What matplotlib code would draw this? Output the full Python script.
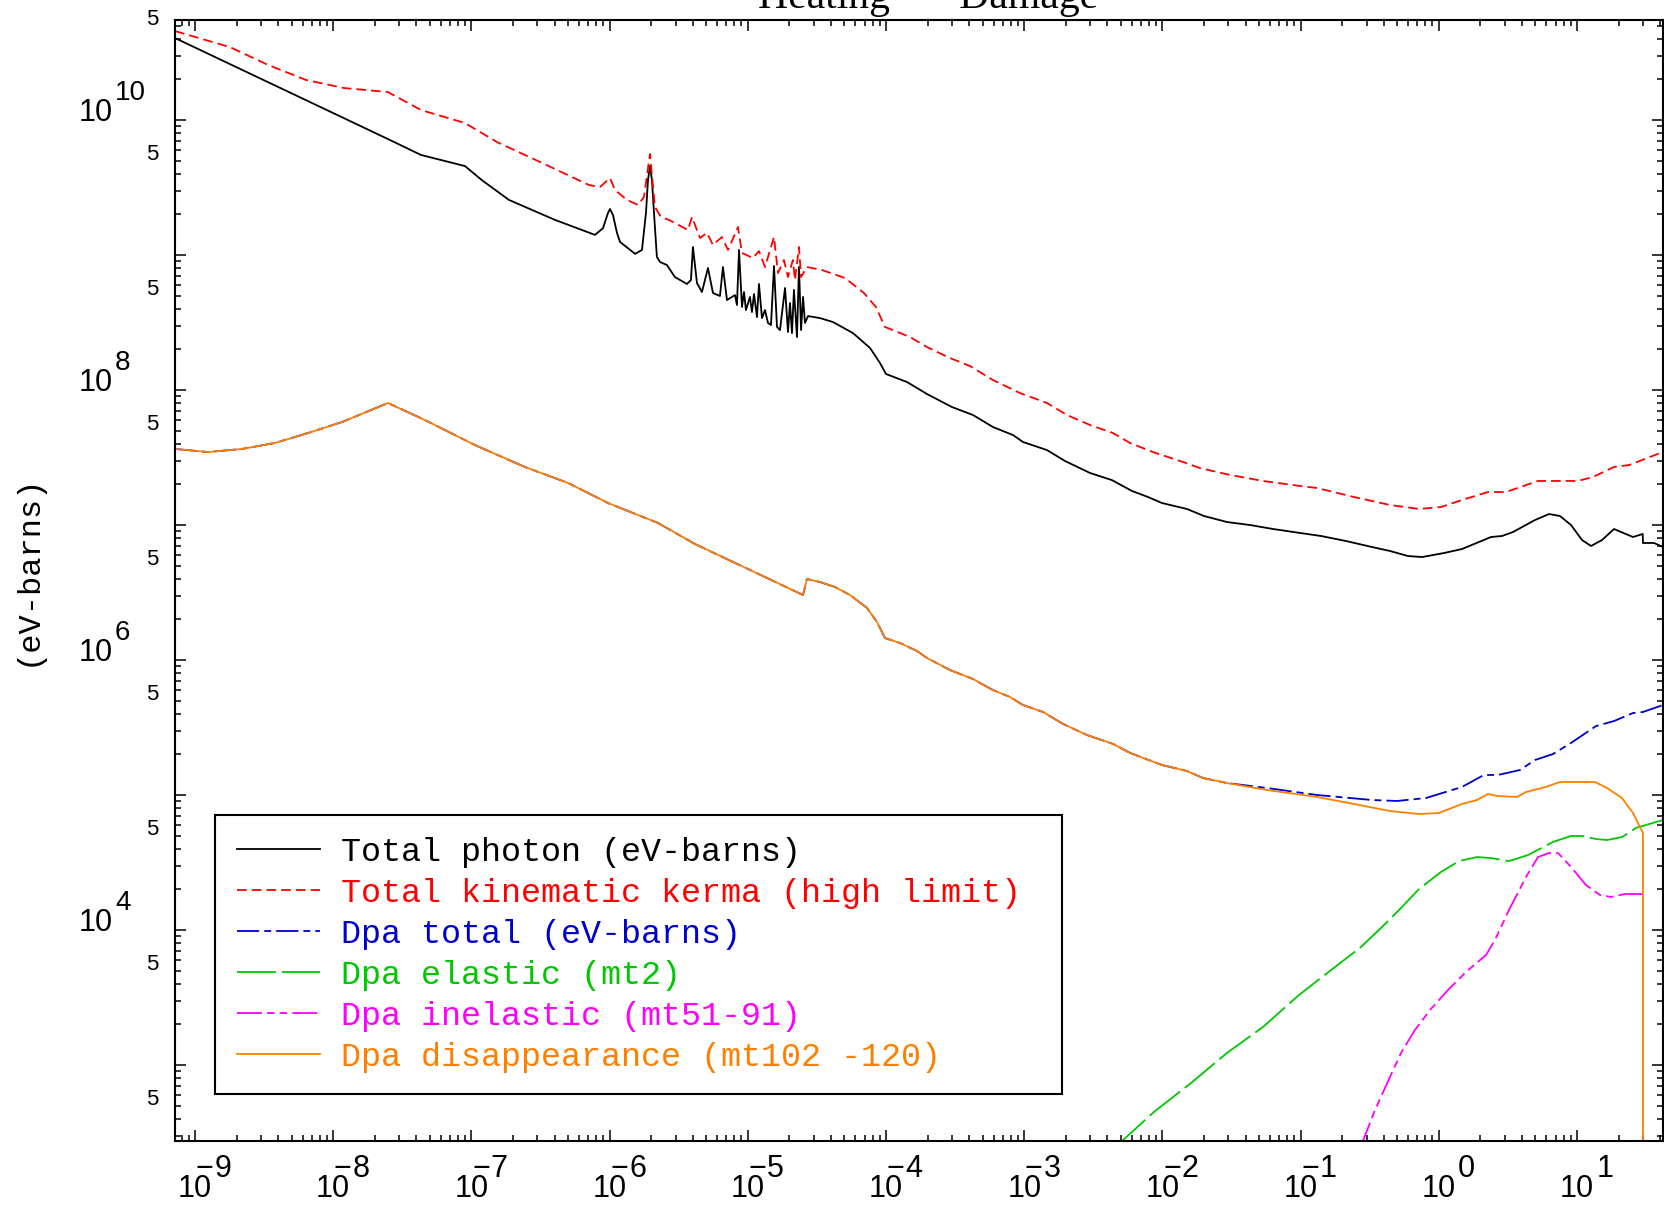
import numpy as np
import matplotlib
matplotlib.use("Agg")
import matplotlib.pyplot as plt
from matplotlib.ticker import LogLocator, NullFormatter

# values (energy, eV-barns)
photon_e = [7.17e-10, 2.49e-8, 4.32e-8, 8.99e-8, 1.19e-7, 1.87e-7, 4.03e-7, 7.84e-7,
            8.96e-7, 9.74e-7, 1.007e-6, 1.058e-6, 1.131e-6, 1.19e-6, 1.53e-6, 1.716e-6,
            1.834e-6, 1.896e-6, 1.96e-6, 2.026e-6, 2.096e-6, 2.20e-6, 2.32e-6, 2.60e-6,
            2.97e-6, 3.63e-6, 3.88e-6, 4.01e-6, 4.29e-6, 4.66e-6, 5.15e-6, 5.60e-6,
            6.29e-6, 6.61e-6, 7.07e-6, 8.08e-6, 8.35e-6, 8.64e-6, 9.08e-6, 9.39e-6,
            9.70e-6, 1.037e-5, 1.072e-5, 1.109e-5, 1.166e-5, 1.205e-5, 1.267e-5, 1.332e-5,
            1.40e-5, 1.472e-5, 1.548e-5, 1.627e-5, 1.71e-5, 1.86e-5, 1.954e-5, 2.02e-5,
            2.088e-5, 2.158e-5, 2.27e-5, 2.347e-5, 2.43e-5, 2.51e-5, 2.594e-5, 2.73e-5,
            3.33e-5, 4.13e-5, 5.77e-5, 7.66e-5, 9.05e-5, 1.0e-4, 1.419e-4, 1.98e-4,
            3.0e-4, 4.26e-4, 5.94e-4, 8.30e-4, 9.80e-4, 1.462e-3, 1.974e-3, 2.99e-3,
            4.32e-3, 6.03e-3, 7.87e-3, 9.93e-3, 1.507e-2, 2.0e-2, 2.93e-2, 4.30e-2,
            6.32e-2, 9.90e-2, 0.1405, 0.213, 0.3286, 0.4434, 0.5986, 0.7558,
            1.09, 1.472, 2.386, 2.866, 3.44, 4.97, 6.27, 7.53,
            9.05, 10.87, 12.63, 15.17, 18.52, 25.42, 29.9, 30.0, 36.1, 41.9]
photon_v = [4.05e10, 7.23e9, 5.51e9, 4.56e9, 3.59e9, 2.56e9, 1.82e9, 1.41e9,
            1.58e9, 2.05e9, 2.19e9, 1.98e9, 1.46e9, 1.25e9, 1.02e9, 1.09e9,
            2.05e9, 3.59e9, 4.56e9, 3.59e9, 2.05e9, 9.67e8, 8.87e8, 8.43e8,
            6.87e8, 6.10e8, 6.53e8, 1.147e9, 6.20e8, 5.32e8, 8.01e8, 5.23e8,
            4.97e8, 8.15e8, 4.64e8, 5.05e8, 4.26e8, 1.09e9, 4.12e8, 5.32e8,
            3.91e8, 4.89e8, 3.78e8, 5.14e8, 3.47e8, 6.10e8, 3.41e8, 3.91e8,
            3.14e8, 3.03e8, 8.29e8, 2.93e8, 2.78e8, 5.70e8, 2.69e8, 4.41e8,
            2.64e8, 5.51e8, 2.47e8, 8.15e8, 2.78e8, 4.89e8, 3.14e8, 3.53e8,
            3.41e8, 3.19e8, 2.64e8, 2.05e8, 1.585e8, 1.314e8, 1.146e8, 9.34e7,
            7.48e7, 6.53e7, 5.32e7, 4.64e7, 4.12e7, 3.59e7, 2.98e7, 2.43e7,
            2.15e7, 1.786e7, 1.612e7, 1.455e7, 1.314e7, 1.166e7, 1.052e7, 1.0e7,
            9.34e6, 8.73e6, 8.29e6, 7.61e6, 6.87e6, 6.42e6, 5.89e6, 5.79e6,
            6.20e6, 6.64e6, 8.15e6, 8.29e6, 8.87e6, 1.089e7, 1.206e7, 1.166e7,
            1.0e7, 7.74e6, 6.99e6, 7.74e6, 9.34e6, 8.15e6, 8.58e6, 7.36e6, 7.36e6, 6.87e6]

kerma_e = [7.17e-10, 1.79e-9, 3.38e-9, 6.36e-9, 1.197e-8, 2.49e-8, 4.32e-8, 8.99e-8,
           1.532e-7, 2.93e-7, 7.10e-7, 8.52e-7, 1.007e-6, 1.094e-6, 1.336e-6, 1.605e-6,
           1.774e-6, 1.96e-6, 2.13e-6, 2.354e-6, 2.69e-6, 3.69e-6, 3.95e-6, 4.51e-6,
           5.07e-6, 5.60e-6, 5.79e-6, 6.51e-6, 7.19e-6, 8.49e-6, 9.08e-6, 1.09e-5,
           1.205e-5, 1.332e-5, 1.548e-5, 1.654e-5, 1.827e-5, 1.954e-5, 2.12e-5, 2.195e-5,
           2.347e-5, 2.43e-5, 2.68e-5, 3.44e-5, 5.05e-5, 6.93e-5, 8.46e-5, 9.83e-5,
           1.492e-4, 1.98e-4, 2.90e-4, 4.05e-4, 5.94e-4, 9.32e-4, 1.462e-3, 2.04e-3,
           2.99e-3, 4.39e-3, 5.83e-3, 8.55e-3, 1.41e-2, 1.871e-2, 3.08e-2, 5.34e-2,
           9.90e-2, 0.1315, 0.2434, 0.4434, 0.719, 1.037, 1.472, 2.27,
           3.06, 5.22, 10.17, 13.05, 18.52, 23.78, 39.9]
kerma_v = [4.56e10, 3.47e10, 2.56e10, 1.98e10, 1.726e10, 1.612e10, 1.186e10, 9.50e9,
           6.87e9, 5.05e9, 3.30e9, 3.19e9, 3.72e9, 3.03e9, 2.56e9, 2.35e9,
           2.69e9, 5.60e9, 2.27e9, 1.912e9, 1.82e9, 1.532e9, 1.912e9, 1.336e9,
           1.46e9, 1.186e9, 1.227e9, 1.359e9, 1.09e9, 1.612e9, 1.035e9, 9.50e8,
           1.07e9, 8.15e8, 1.359e9, 7.36e8, 9.18e8, 6.87e8, 9.18e8, 6.53e8,
           1.147e9, 6.87e8, 8.15e8, 7.74e8, 6.75e8, 5.23e8, 4.12e8, 2.93e8,
           2.47e8, 2.08e8, 1.726e8, 1.506e8, 1.186e8, 9.50e7, 8.01e7, 6.53e7,
           5.51e7, 4.80e7, 4.05e7, 3.47e7, 2.93e7, 2.64e7, 2.35e7, 2.12e7,
           1.945e7, 1.88e7, 1.612e7, 1.407e7, 1.314e7, 1.359e7, 1.532e7, 1.755e7,
           1.755e7, 2.12e7, 2.12e7, 2.27e7, 2.69e7, 2.78e7, 3.41e7]

# Dpa total and Dpa disappearance share this part
common_e = [7.17e-10, 1.242e-9, 2.19e-9, 3.79e-9, 6.57e-9, 1.158e-8, 2.49e-8, 4.62e-8,
            1.062e-7, 2.44e-7, 5.0e-7, 9.74e-7, 2.24e-6, 4.15e-6, 2.51e-5, 2.68e-5,
            3.33e-5, 4.28e-5, 5.49e-5, 7.29e-5, 8.61e-5, 9.83e-5, 1.263e-4, 1.676e-4,
            1.98e-4, 2.90e-4, 4.26e-4, 5.94e-4, 7.90e-4, 9.80e-4, 1.368e-3, 1.909e-3,
            2.85e-3, 4.39e-3, 5.83e-3, 9.93e-3, 1.507e-2, 1.966e-2, 2.93e-2]
common_v = [3.66e7, 3.47e7, 3.66e7, 4.05e7, 4.80e7, 5.79e7, 8.01e7, 5.99e7,
            3.91e7, 2.69e7, 2.05e7, 1.455e7, 1.035e7, 7.23e6, 3.03e6, 3.98e6,
            3.78e6, 3.47e6, 3.03e6, 2.43e6, 1.912e6, 1.455e6, 1.336e6, 1.166e6,
            1.035e6, 8.43e5, 7.23e5, 5.99e5, 5.32e5, 4.64e5, 4.12e5, 3.36e5,
            2.78e5, 2.39e5, 2.05e5, 1.668e5, 1.506e5, 1.336e5, 1.227e5]

dpa_tot_e = common_e + [5.71e-2, 0.1315, 0.3286, 0.498, 0.808, 1.472, 2.12, 2.68,
                        3.87, 4.97, 6.70, 9.05, 13.72, 18.52, 25.42, 30.0, 41.9]
dpa_tot_v = common_v + [1.127e5, 1.0e5, 9.18e4, 9.03e4, 9.50e4, 1.147e5, 1.407e5, 1.407e5,
                        1.532e5, 1.817e5, 2.01e5, 2.43e5, 3.24e5, 3.53e5, 4.05e5, 4.12e5, 4.64e5]

dpa_dis_e = common_e + [5.71e-2, 0.1315, 0.2434, 0.4434, 0.719, 1.003, 1.472, 1.89,
                        2.27, 2.64, 3.68, 4.28, 5.97, 7.53, 13.50, 16.49, 21.17, 25.42,
                        30.0, 30.0]
dpa_dis_v = common_v + [1.089e5, 9.67e4, 8.58e4, 7.61e4, 7.23e4, 7.36e4, 8.58e4, 9.18e4,
                        1.017e5, 9.83e4, 9.67e4, 1.052e5, 1.147e5, 1.248e5, 1.248e5, 1.127e5,
                        9.50e4, 7.36e4, 5.23e4, 1.0e2]

dpa_el_e = [4.66e-3, 8.69e-3, 1.61e-2, 2.93e-2, 5.34e-2, 9.74e-2, 0.1774, 0.2735,
            0.3948, 0.5327, 0.719, 1.037, 1.40, 1.89, 2.386, 3.22, 4.42, 6.70,
            9.05, 10.87, 13.72, 16.49, 21.17, 26.7, 41.9]
dpa_el_v = [251, 449, 735, 1227, 1912, 3300, 5318, 7483,
            1.07e4, 1.455e4, 2.01e4, 2.69e4, 3.24e4, 3.47e4, 3.41e4, 3.24e4, 3.59e4, 4.49e4,
            4.97e4, 4.97e4, 4.72e4, 4.64e4, 4.88e4, 5.70e4, 6.53e4]

dpa_inel_e = [0.2735, 0.3455, 0.4434, 0.5327, 0.6727, 0.8635, 1.166, 1.573,
              2.195, 2.55, 3.22, 4.28, 5.22, 6.27, 7.29, 9.05, 11.62, 14.67,
              17.62, 22.25, 30.0]
dpa_inel_v = [251, 464, 815, 1227, 1817, 2555, 3594, 4886,
              6528, 8432, 1.407e4, 2.47e4, 3.47e4, 3.72e4, 3.72e4, 2.93e4, 2.15e4, 1.817e4,
              1.756e4, 1.848e4, 1.848e4]

labels = ["Total photon (eV-barns)", "Total kinematic kerma (high limit)",
          "Dpa total (eV-barns)", "Dpa elastic (mt2)", "Dpa inelastic (mt51-91)",
          "Dpa disappearance (mt102 -120)"]

plt.rcParams['lines.scale_dashes'] = False
mono = 'Liberation Mono'
sans = 'Liberation Sans'

fig = plt.figure(figsize=(16.65, 12.06), dpi=100)
ax = fig.add_axes([0.1051, 0.0539, 0.8937, 0.9295])

lw = 1.3
ax.plot(photon_e, photon_v, color='black', lw=lw, label=labels[0])
ax.plot(kerma_e, kerma_v, color='#ff0000', lw=lw, dashes=(7, 3.6), label=labels[1])
ax.plot(dpa_tot_e, dpa_tot_v, color='#0000cc', lw=lw, dashes=(16, 3.6, 5, 3.6), label=labels[2])
ax.plot(dpa_el_e, dpa_el_v, color='#00c800', lw=lw, dashes=(28, 4.3), label=labels[3])
ax.plot(dpa_inel_e, dpa_inel_v, color='#ff00ff', lw=lw, dashes=(18, 3.6, 5.5, 3.6, 5.5, 3.6), label=labels[4])
ax.plot(dpa_dis_e, dpa_dis_v, color='#ff8000', lw=lw, label=labels[5])

ax.set_xscale('log')
ax.set_yscale('log')
ax.set_xlim(7.17e-10, 41.9)
ax.set_ylim(273.5, 5.505e10)

for axis in (ax.xaxis, ax.yaxis):
    axis.set_major_locator(LogLocator(base=10, subs=(1.0,), numticks=100))
    axis.set_minor_locator(LogLocator(base=10, subs=np.arange(2, 10), numticks=100))
    axis.set_major_formatter(NullFormatter())
    axis.set_minor_formatter(NullFormatter())
ax.tick_params(which='both', direction='in', top=True, right=True, width=1.1)
ax.tick_params(which='major', length=8)
ax.tick_params(which='minor', length=4.3)
for s in ax.spines.values():
    s.set_linewidth(1.5)

# x tick labels: 10 with exponent, IDL style
xt = ax.get_xaxis_transform()
for n in range(-9, 2):
    ax.annotate("10", xy=(10.0 ** n, 0), xycoords=xt, xytext=(0, -40.3),
                textcoords='offset points', ha='center', va='baseline',
                fontsize=22, family=sans, annotation_clip=False)
    ax.annotate(str(abs(n)), xy=(10.0 ** n, 0), xycoords=xt, xytext=(14, -26),
                textcoords='offset points', ha='left', va='baseline',
                fontsize=22, family=sans, annotation_clip=False)
    if n < 0:
        ax.annotate("\u2212", xy=(10.0 ** n, 0), xycoords=xt, xytext=(7, -26),
                    textcoords='offset points', ha='center', va='baseline',
                    fontsize=22, family=sans, annotation_clip=False)

# y tick labels: 10^n on even decades, "5" at 5x10^n
yt = ax.get_yaxis_transform()
for n in range(2, 11):
    if n % 2 == 0 and n >= 4:
        ax.annotate("10", xy=(0, 10.0 ** n), xycoords=yt, xytext=(-44.6, -0.7),
                    textcoords='offset points', ha='right', va='baseline',
                    fontsize=22, family=sans, annotation_clip=False)
        ax.annotate(str(n), xy=(0, 10.0 ** n), xycoords=yt, xytext=(-43.2, 14.4),
                    textcoords='offset points', ha='left', va='baseline',
                    fontsize=20, family=sans, annotation_clip=False)
    ax.annotate("5", xy=(0, 5 * 10.0 ** n), xycoords=yt, xytext=(-12.2, 4.3),
                textcoords='offset points', ha='right', va='center',
                fontsize=16, family=sans, annotation_clip=False)

fig.text(0.0168, 0.5274, "(eV-barns)", rotation=90, ha='center', va='center',
         fontsize=23, family=mono)
fig.text(0.5575, 1 - 8 / 1206, "Heating  --  Damage", ha='center', va='baseline',
         fontsize=30, family='Liberation Serif')

leg = ax.legend(loc='upper left', bbox_to_anchor=(0.0269, 0.0366, 0.5692, 0.2542),
                mode='expand', borderaxespad=0, fancybox=False, framealpha=1,
                edgecolor='black', labelcolor='linecolor', handlelength=2.5,
                handletextpad=0.63, borderpad=0.65, labelspacing=0.3,
                prop={'family': mono, 'size': 24})
leg.get_frame().set_linewidth(1.5)

fig.savefig("out.png", dpi=100)
